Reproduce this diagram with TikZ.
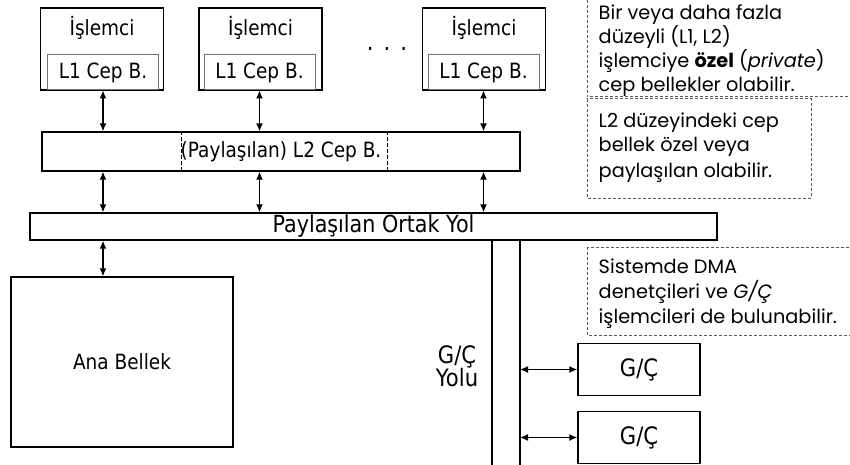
\documentclass[tikz,border=0pt]{standalone}
\usepackage{fontspec}
\setmainfont[FakeStretch=0.88]{DejaVu Sans}
\newfontfamily\notefont{Poppins}
\usetikzlibrary{arrows.meta}

\tikzset{
  unit/.style={draw,line width=1.3pt,inner sep=0pt,font=\fontsize{21}{25}\selectfont},
  cpu/.style={unit,minimum width=123pt,minimum height=82pt},
  cache/.style={draw=black!55,line width=1pt,inner sep=0pt,minimum width=111pt,minimum height=35pt,font=\fontsize{21}{25}\selectfont},
  iobox/.style={unit,minimum width=122pt,minimum height=52pt,font=\fontsize{24}{24}\selectfont},
  note/.style={draw=black!65,line width=1pt,dash pattern=on 3pt off 2pt},
  notetext/.style={anchor=base west,align=left,inner sep=0pt,font=\notefont\fontsize{19.3}{25}\selectfont},
}

\begin{document}
\begin{tikzpicture}[<->,>={Latex[length=8pt,width=7pt]},x=1pt,y=-1pt,line width=1.4pt]

\useasboundingbox (0,0) rectangle (850,465);
\clip (0,0) rectangle (850,465);

% processors with their L1 caches
\node[cpu] (p1) at (102,49) {};
\node[cpu] (p2) at (260.5,49) {};
\node[cpu] (p3) at (484,49) {};

\node[cache] (c1) at (103,72.5) {L1 Cep B.};
\node[cache] (c2) at (259.5,72.5) {L1 Cep B.};
\node[cache] (c3) at (483.5,72.5) {L1 Cep B.};

\node[font=\fontsize{21}{25}\selectfont] (t1) at (102,28) {İşlemci};
\node[font=\fontsize{21}{25}\selectfont] (t2) at (260.5,28) {İşlemci};
\node[font=\fontsize{21}{25}\selectfont] (t3) at (484,28) {İşlemci};

\node[anchor=base,font=\fontsize{24}{24}\selectfont] (dots) at (387,51) {.\hspace{10pt}.\hspace{10pt}.};

% L2, bus, memory
\node[unit,minimum width=478pt,minimum height=39pt] (l2) at (281,151.5) {(Paylaşılan) L2 Cep B.};
\path [draw,-,line width=1pt,dash pattern=on 4pt off 2pt]
    ([xshift=140pt]l2.north west) -- ([xshift=140pt]l2.south west)
    ([xshift=346pt]l2.north west) -- ([xshift=346pt]l2.south west)
;

\node[unit,minimum width=687pt,minimum height=27pt,font=\fontsize{23.5}{24}\selectfont] (bus) at (373.5,226.5) {Paylaşılan Ortak Yol};

\node[unit,minimum width=222pt,minimum height=170pt] (mem) at (122,362) {Ana Bellek};

% I/O bus
\coordinate (yl) at (492,240);
\coordinate (yr) at (520,240);
\path [draw,-]
    (yl) -- ++(0,230)
    (yr) -- ++(0,230)
;
\node[align=center,font=\fontsize{24}{23}\selectfont] (yolu) at (457,366) {G/Ç\\Yolu};

\node[iobox] (io1) at (639,369.5) {G/Ç};
\node[iobox] (io2) at (639,437.5) {G/Ç};

% links
\draw (c1.south) -- (c1.south |- l2.north);
\draw (c2.south) -- (c2.south |- l2.north);
\draw (c3.south) -- (c3.south |- l2.north);
\draw (c1.south |- l2.south) -- (c1.south |- bus.north);
\draw (c2.south |- l2.south) -- (c2.south |- bus.north);
\draw (c3.south |- l2.south) -- (c3.south |- bus.north);
\draw (c1.south |- bus.south) -- (c1.south |- mem.north);
\draw (io1.west -| yr) -- (io1.west);
\draw (io2.west -| yr) -- (io2.west);

% notes
\draw[note] (587,-5) rectangle (870,97);
\node[notetext,font=\notefont\fontsize{19.3}{24}\selectfont] (n1) at (598,92) {Bir veya daha fazla\\düzeyli (L1, L2)\\işlemciye \textbf{özel} (\textit{private})\\cep bellekler olabilir.};
\draw[note] (587,99) rectangle (811,198);
\node[notetext] (n2) at (598,177) {L2 düzeyindeki cep\\bellek özel veya\\paylaşılan olabilir.};
\draw[note] (587,247) rectangle (870,335);
\node[notetext] (n3) at (598,323) {Sistemde DMA\\denetçileri ve \textit{G/Ç}\\işlemcileri de bulunabilir.};

\end{tikzpicture}
\end{document}
